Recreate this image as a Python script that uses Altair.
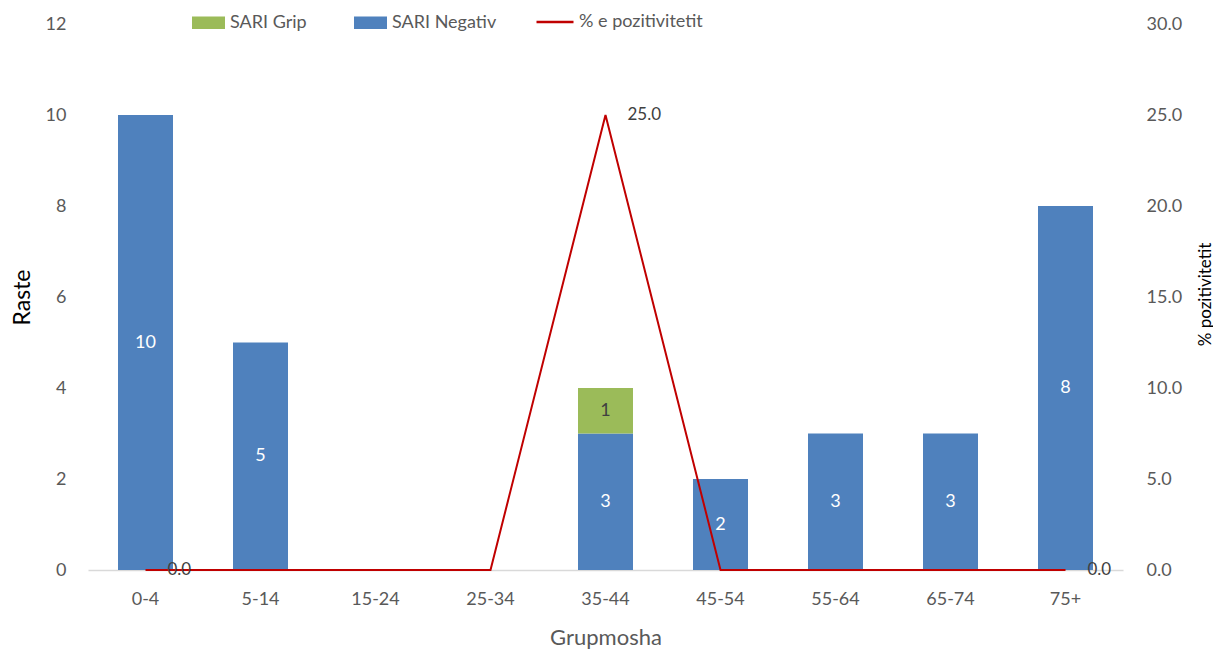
import altair as alt
import pandas as pd

categories = ["0-4", "5-14", "15-24", "25-34", "35-44", "45-54", "55-64", "65-74", "75+"]
sari_negativ = [10, 5, 0, 0, 3, 2, 3, 3, 8]
sari_grip = [0, 0, 0, 0, 1, 0, 0, 0, 0]
pct_pozitiv = [0.0, 0.0, 0.0, 0.0, 25.0, 0.0, 0.0, 0.0, 0.0]
pct_label_shown = [True, False, False, False, True, False, False, False, True]

FONT = "Lato"
GRAY = "#595959"
BLUE = "#4F81BD"
GREEN = "#9BBB59"
RED = "#C00000"

rows = []
for c, n, g in zip(categories, sari_negativ, sari_grip):
    rows.append({"cat": c, "series": "SARI Negativ", "value": n, "ord": 0,
                 "mid": n / 2, "txtcol": "white"})
    rows.append({"cat": c, "series": "SARI Grip", "value": g, "ord": 1,
                 "mid": n + g / 2, "txtcol": "#404040"})
bars_df = pd.DataFrame(rows)
text_df = bars_df[bars_df["value"] > 0].copy()

line_df = pd.DataFrame({"cat": categories, "pct": pct_pozitiv,
                        "series": "% e pozitivitetit", "show": pct_label_shown})
line_text_df = line_df[line_df["show"]].copy()
line_text_df["lbl"] = line_text_df["pct"].map(lambda v: f"{v:.1f}")

x_enc = alt.X("cat:N", sort=categories, scale=alt.Scale(domain=categories, paddingInner=0, paddingOuter=0),
              axis=alt.Axis(title="Grupmosha", labelAngle=0, ticks=False, labelPadding=20,
                            domainColor="#D9D9D9", domainWidth=1.5,
                            titleX=517.5, titleY=67, titleBaseline="middle",
                            titleFontWeight="normal", titleFontSize=22, titleColor=GRAY))

left_scale = alt.Scale(domain=[0, 12], nice=False)
right_scale = alt.Scale(domain=[0, 30], nice=False)

bars = alt.Chart(bars_df).mark_bar(size=55).encode(
    x=x_enc,
    y=alt.Y("value:Q", stack="zero", scale=left_scale,
            axis=alt.Axis(title="Raste", values=[0, 2, 4, 6, 8, 10, 12], grid=False, domain=False,
                          ticks=False, labelPadding=22, titleX=-66, titleY=273,
                          titleAngle=270, titleBaseline="middle", titleAlign="center",
                          titleFontWeight="normal", titleFontSize=23, titleColor="black")),
    color=alt.Color("series:N", scale=alt.Scale(domain=["SARI Grip", "SARI Negativ"], range=[GREEN, BLUE]),
                    legend=alt.Legend(title=None, orient="none", legendX=104, legendY=-18,
                                      direction="horizontal", columns=2, columnPadding=47,
                                      symbolType="M-1,-0.38H1V0.38H-1Z", symbolSize=1089,
                                      symbolStrokeWidth=0, labelOffset=5)),
    order=alt.Order("ord:Q"),
)

bar_text = alt.Chart(text_df).mark_text(fontSize=18, font=FONT, baseline="middle").encode(
    x=x_enc,
    y=alt.Y("mid:Q", scale=left_scale, axis=None),
    text=alt.Text("value:Q"),
    color=alt.Color("txtcol:N", scale=None),
)

line = alt.Chart(line_df).mark_line(strokeWidth=2).encode(
    x=x_enc,
    y=alt.Y("pct:Q", scale=right_scale,
            axis=alt.Axis(title="% pozitivitetit", orient="right", values=[0, 5, 10, 15, 20, 25, 30],
                          format=".1f", grid=False, domain=False, ticks=False, labelPadding=23,
                          titleX=82, titleY=270, titleAngle=270, titleBaseline="middle",
                          titleAlign="center", titleFontWeight="normal", titleFontSize=17,
                          titleColor="black")),
    stroke=alt.Stroke("series:N", scale=alt.Scale(domain=["% e pozitivitetit"], range=[RED]),
                      legend=alt.Legend(title=None, orient="none", legendX=447, legendY=-22,
                                        symbolType="stroke", symbolSize=1369, symbolStrokeWidth=2.5,
                                        labelOffset=4)),
)

line_text = alt.Chart(line_text_df).mark_text(fontSize=17, font=FONT, align="left", baseline="middle",
                                              dx=22, color="#404040").encode(
    x=x_enc,
    y=alt.Y("pct:Q", scale=right_scale, axis=None),
    text=alt.Text("lbl:N"),
)

chart = alt.layer(bars, line, bar_text, line_text).resolve_scale(
    y="independent", color="independent"
).properties(
    width=1035, height=546,
    autosize=alt.AutoSizeParams(type="none"),
    padding={"left": 80, "top": 16, "right": 90, "bottom": 80},
).configure_view(stroke=None).configure_axis(
    labelFont=FONT, titleFont=FONT, labelFontSize=18, labelColor=GRAY,
).configure_legend(
    labelFont=FONT, labelFontSize=18, labelColor=GRAY, padding=0, offset=0,
)

chart.save("out.html", embed_options={"renderer": "svg", "actions": False})
